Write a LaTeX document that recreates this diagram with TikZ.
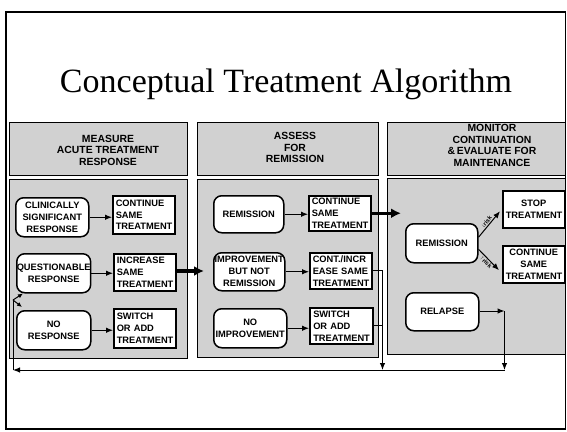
\documentclass[tikz,border=0pt]{standalone}
\usepackage{fontspec}
\setmainfont{Liberation Serif}
\setsansfont{Liberation Sans}
\usetikzlibrary{arrows.meta}
\begin{document}
\begin{tikzpicture}[x=1pt,y=-1pt,
  panel/.style={draw, line width=0.8pt, fill=black!18},
  hdr/.style={align=center, inner sep=0pt,
    font=\sffamily\bfseries\fontsize{10.4}{11.5}\selectfont},
  boxfont/.style={font=\sffamily\bfseries\fontsize{9.3}{12}\selectfont},
  rbox/.style={boxfont, draw, line width=1.5pt, fill=white, rounded corners=8pt,
    anchor=north west, align=center, inner sep=0pt},
  sbox/.style={boxfont, draw, line width=1.5pt, fill=white, anchor=north west,
    inner xsep=3pt, inner ysep=0pt, text width=56pt},
  arr/.style={line width=1pt, -{Latex[length=7pt,width=5.5pt]}},
  fat/.style={line width=3.2pt, -{Latex[length=10pt,width=10pt]}},
  wire/.style={line width=1pt},
  risk/.style={font=\sffamily\bfseries\fontsize{6}{6.5}\selectfont, inner sep=0pt}]
\useasboundingbox (0,0) rectangle (567,431);

% slide frame and title
\draw[line width=1.2pt] (6,12) rectangle (565.5,429);
\node[font=\fontsize{34}{40}\selectfont] (title) at (286,84) {Conceptual Treatment Algorithm};

% column headers
\path[panel] (9,122) rectangle (187,175);
\path[panel] (197,122) rectangle (378,175);
\path[panel] (387,122) rectangle (565,175);
\node[hdr] (h1) at (108,150) {MEASURE\\ACUTE TREATMENT\\RESPONSE};
\node[hdr] (h2) at (295,147.5) {ASSESS\\FOR\\REMISSION};
\node[hdr] (h3) at (492,145.5) {MONITOR\\CONTINUATION\\\&\,EVALUATE FOR\\MAINTENANCE};

% column bodies
\path[panel] (9,179) rectangle (187,358);
\path[panel] (197,179) rectangle (378,357);
\path[panel] (387,178) rectangle (565,354);

% acute response
\node[rbox, minimum width=73pt, minimum height=39pt] (cs) at (15,197) {CLINICALLY\\SIGNIFICANT\\RESPONSE};
\node[sbox, minimum width=62pt, minimum height=38pt] (c1) at (112,195) {CONTINUE\\SAME\\TREATMENT};
\node[rbox, minimum width=73pt, minimum height=39pt] (qr) at (16,253) {QUESTIONABLE\\RESPONSE};
\node[sbox, minimum width=62pt, minimum height=37pt] (is) at (113,253) {INCREASE\\SAME\\TREATMENT};
\node[rbox, minimum width=74pt, minimum height=39pt] (nr) at (16,310) {NO\\RESPONSE};
\node[sbox, minimum width=62pt, minimum height=39pt] (sa1) at (113,308) {SWITCH\\OR ADD\\TREATMENT};

% remission assessment
\node[rbox, minimum width=70pt, minimum height=37pt] (r2) at (213,195) {REMISSION};
\node[sbox, minimum width=62pt, minimum height=35pt] (c2) at (308,195) {CONTINUE\\SAME\\TREATMENT};
\node[rbox, minimum width=71pt, minimum height=38pt] (ib) at (213,252) {IMPROVEMENT\\BUT NOT\\REMISSION};
\node[sbox, minimum width=62pt, minimum height=36pt] (ci) at (309,252) {CONT./INCR\\EASE SAME\\TREATMENT};
\node[rbox, minimum width=73pt, minimum height=39pt] (ni) at (213,308) {NO\\IMPROVEMENT};
\node[sbox, minimum width=63pt, minimum height=36pt] (sa2) at (309,307) {SWITCH\\OR ADD\\TREATMENT};

% continuation and maintenance
\node[sbox, align=center, minimum width=61pt, minimum height=37pt] (st) at (502,190) {STOP\\TREATMENT};
\node[rbox, minimum width=72pt, minimum height=39pt] (r3) at (405,223) {REMISSION};
\node[sbox, align=center, minimum width=61pt, minimum height=37pt] (c3) at (502,245) {CONTINUE\\SAME\\TREATMENT};
\node[rbox, minimum width=73pt, minimum height=38pt] (rl) at (405,292) {RELAPSE};

% junction points of the return loop
\coordinate (f1) at (204,271);
\coordinate (f2) at (401,213);
\coordinate (vj) at (382.5,270);
\coordinate (rj) at (504.5,311);
\coordinate (rb) at (504.5,370);
\coordinate (lb) at (13,370);
\coordinate (lt) at (13,300);

% arrows within columns
\draw[arr] (cs.east) -- (cs.east -| c1.west);
\draw[arr] (qr.east) -- (qr.east -| is.west);
\draw[arr] (nr.east) -- (nr.east -| sa1.west);
\draw[arr] (r2.east) -- (r2.east -| c2.west);
\draw[arr] (ib.east) -- (ib.east -| ci.west);
\draw[arr] (ni.east) -- (ni.east -| sa2.west);

% flow between columns
\draw[fat] (is.east |- f1) -- (f1);
\draw[fat] (c2.east) -- (c2.east -| f2);

% maintenance decision
\draw[arr] ([yshift=6pt]r3.east) -- node[risk, sloped, above=1pt, pos=0.5] {↓risk} ([xshift=-2pt,yshift=-2pt]st.west);
\draw[arr] ([yshift=-6pt]r3.east) -- node[risk, sloped, below=1pt, pos=0.5] {↑risk} ([xshift=-3pt,yshift=-6pt]c3.west);

% return loop
\draw[wire] (ci.east) -- (ci.east -| vj);
\draw[wire] (sa2.east) -- (sa2.east -| vj);
\draw[arr] (vj) -- (vj |- rb);
\draw[arr] (rl.east |- rj) -- (rj);
\draw[arr] (rj) -- (rb);
\draw[arr] (rb) -- (lb);
\draw[wire] (lb) -- (lt);
\draw[line width=1pt, -{Latex[length=5pt,width=4.5pt]}] (lt) -- (23,293.5);
\draw[line width=1pt, -{Latex[length=5pt,width=4.5pt]}] (lt) -- (22,307);
\end{tikzpicture}
\end{document}
